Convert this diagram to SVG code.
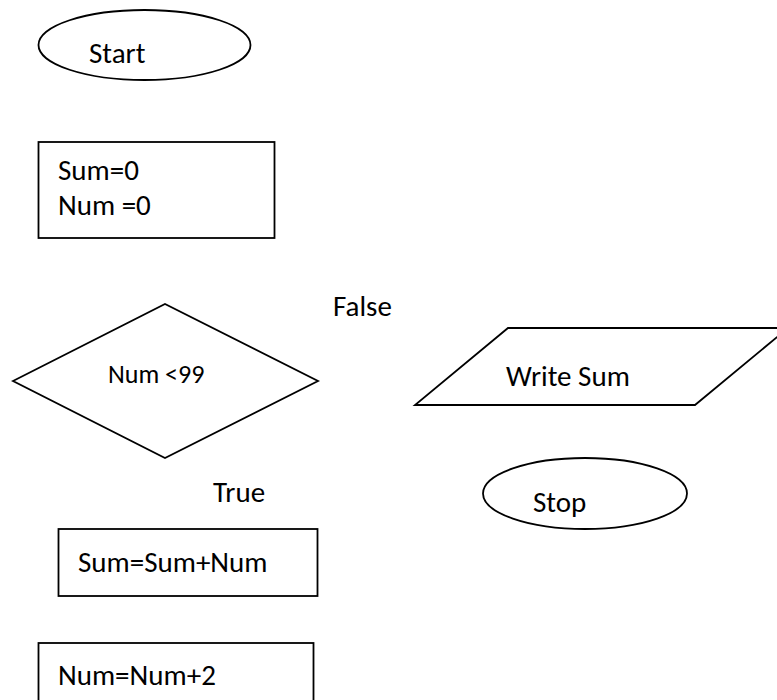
<svg xmlns="http://www.w3.org/2000/svg" width="777" height="700" viewBox="0 0 777 700">
<style>
.s{fill:#fff;stroke:#000;stroke-width:1.8}
text{font-family:Carlito,Lato,"Liberation Sans",sans-serif;font-size:29px;fill:#000}
.sm{font-size:26px}
</style>
<rect width="777" height="700" fill="#fff"/>
<g id="start"><ellipse class="s" cx="144.5" cy="45" rx="106" ry="35"/><text x="89" y="63">Start</text></g>
<g id="init"><rect class="s" x="38.5" y="142" width="236" height="96"/><text x="58" y="180">Sum=0</text><text x="58" y="215">Num =0</text></g>
<g id="decision"><polygon class="s" points="13,381 165,304 318,381 165,458"/><text class="sm" x="108" y="383">Num &lt;99</text></g>
<g id="write"><polygon class="s" points="508,328 788,328 695,405 415,405"/><text x="506" y="386">Write Sum</text></g>
<g id="stop"><ellipse class="s" cx="585" cy="493.5" rx="102" ry="35.5"/><text x="533" y="512">Stop</text></g>
<g id="add"><rect class="s" x="58.5" y="529" width="259" height="67"/><text x="78" y="572">Sum=Sum+Num</text></g>
<g id="inc"><rect class="s" x="38.5" y="643" width="275" height="70"/><text x="58" y="685">Num=Num+2</text></g>
<g id="connectors"></g>
<g id="labels"><text x="333" y="316">False</text><text x="213" y="502">True</text></g>
</svg>
